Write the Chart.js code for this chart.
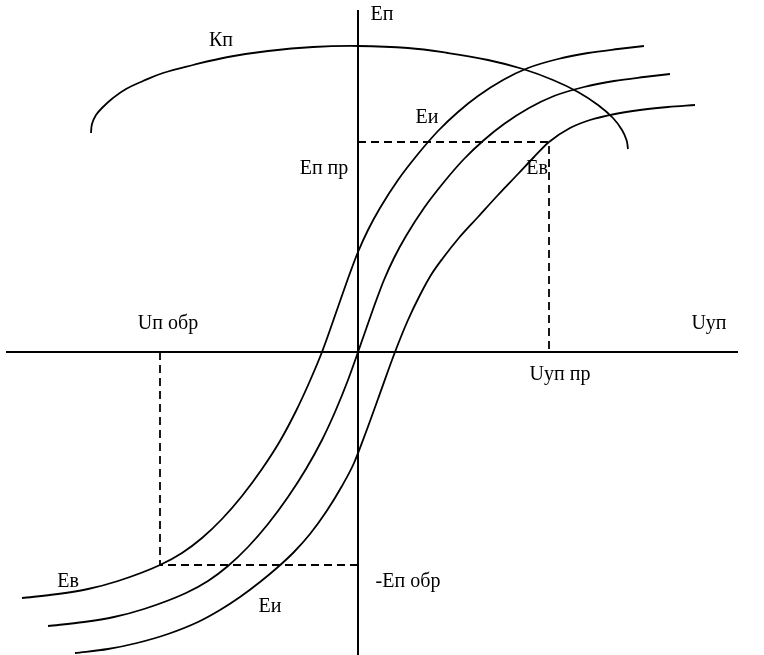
<!DOCTYPE html>
<html>
<head>
<meta charset="utf-8">
<script src="https://cdn.jsdelivr.net/npm/chart.js@4.4.1/dist/chart.umd.min.js"></script>
<style>
    html, body { margin: 0; padding: 0; background: #fff; }
    #wrap { width: 764px; height: 655px; }
</style>
</head>
<body>
<div id="wrap"><canvas id="chart" width="764" height="655"></canvas></div>
<script>
// curve Ев (left)
const curveEv = [
    [-336, -246], [-300, -242], [-270, -237], [-240, -229], [-198, -213], [-176, -201],
    [-156, -186], [-136, -167], [-116, -144], [-96, -117], [-78, -89], [-62, -59],
    [-49, -31], [-36, 0], [-20, 45], [-8, 79], [0, 100], [10, 122], [22, 144], [40, 172],
    [60, 198], [80, 221], [100, 240], [120, 256], [145, 272], [170, 284], [200, 293],
    [230, 299], [260, 303], [286, 306]
];
// middle curve
const curveMid = [
    [-310, -274], [-274, -270], [-244, -265], [-214, -257], [-172, -241], [-150, -229],
    [-130, -214], [-110, -195], [-90, -172], [-70, -145], [-52, -117], [-36, -88],
    [-23, -60], [-10, -28], [6, 17], [18, 51], [26, 72], [36, 94], [48, 116], [66, 144],
    [86, 170], [106, 193], [126, 212], [146, 228], [171, 244], [196, 256], [226, 265],
    [256, 271], [286, 275], [312, 278]
];
// curve Еи (right)
const curveEi = [
    [-283, -301], [-250, -297], [-221, -291], [-190, -282], [-160, -270], [-138, -258],
    [-118, -245], [-98, -230], [-80, -215], [-64, -200], [-48, -182], [-32, -160],
    [-16, -134], [-4, -111], [8, -80], [20, -47], [37, 0], [50, 32], [62, 57], [73, 77],
    [85, 94], [100, 113], [120, 135], [140, 157], [160, 178], [176, 195], [191, 210],
    [212, 224], [232, 232], [257, 238], [282, 242], [310, 245], [337, 247]
];
// arc Кп
const arcKp = [
    [-267, 219], [-266, 228], [-262, 237], [-255, 245], [-245, 254], [-232, 263],
    [-215, 271], [-195, 279], [-165, 287], [-130, 295], [-90, 301], [-45, 305], [0, 306],
    [50, 304], [90, 299], [130, 292], [165, 283], [195, 272], [220, 260], [240, 247],
    [255, 234], [264, 222], [268.5, 212], [270, 203]
];
const axisU = [[-352, 0], [380, 0]];
const axisE = [[0, 342], [0, -303]];
const dashPr = [[0, 210], [191, 210], [191, 0]];
const dashObr = [[-198, 0], [-198, -213], [0, -213]];

const labels = [
    ['Еп', 24, 337], ['Кп', -137, 311], ['Еи', 69, 234], ['Еп пр', -34, 183],
    ['Ев', 179, 183], ['Uп обр', -190, 28], ['Uуп', 351, 28], ['Uуп пр', 202, -23],
    ['Ев', -290, -230], ['-Еп обр', 50, -230], ['Еи', -88, -255]
];

const toXY = arr => arr.map(p => ({ x: p[0], y: p[1] }));

function line(data, width, dash, smooth) {
    const ds = {
        data: toXY(data),
        showLine: true,
        borderColor: '#000',
        borderWidth: width,
        borderDash: dash || [],
        pointRadius: 0,
        tension: 0,
        fill: false
    };
    if (smooth === 'mono') ds.cubicInterpolationMode = 'monotone';
    else if (smooth) ds.tension = smooth;
    return ds;
}

const textPlugin = {
    id: 'texts',
    afterDatasetsDraw(chart) {
        const ctx = chart.ctx;
        const xs = chart.scales.x, ys = chart.scales.y;
        ctx.save();
        ctx.font = '20px "Liberation Serif", "Times New Roman", serif';
        ctx.fillStyle = '#000';
        ctx.textAlign = 'center';
        ctx.textBaseline = 'middle';
        labels.forEach(l => {
            ctx.fillText(l[0], xs.getPixelForValue(l[1]), ys.getPixelForValue(l[2]));
        });
        ctx.restore();
    }
};

new Chart(document.getElementById('chart'), {
    type: 'scatter',
    data: {
        datasets: [
            line(axisU, 2, null, 0),
            line(axisE, 2, null, 0),
            line(dashPr, 1.8, [8, 5], 0),
            line(dashObr, 1.8, [8, 5], 0),
            line(curveEv, 1.8, null, 'mono'),
            line(curveMid, 1.8, null, 'mono'),
            line(curveEi, 1.8, null, 'mono'),
            line(arcKp, 1.8, null, 0.4)
        ]
    },
    options: {
        responsive: false,
        animation: false,
        layout: { padding: 0 },
        clip: false,
        plugins: { legend: { display: false }, tooltip: { enabled: false } },
        scales: {
            x: { type: 'linear', min: -358, max: 406, display: false },
            y: { type: 'linear', min: -303, max: 352, display: false }
        }
    },
    plugins: [textPlugin]
});
</script>
</body>
</html>
